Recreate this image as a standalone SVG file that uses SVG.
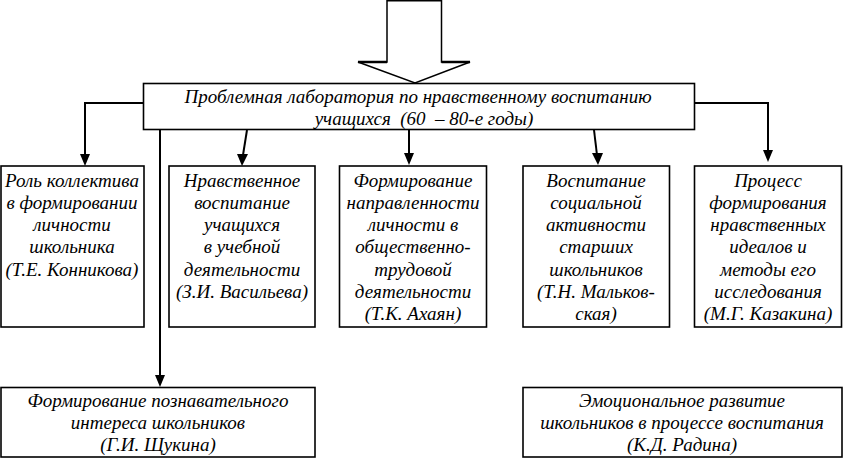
<svg xmlns="http://www.w3.org/2000/svg" width="850" height="458" viewBox="0 0 850 458">
<style>
.box{fill:#fff;stroke:#000;stroke-width:1.6}
.t{font-family:"Liberation Serif","Times New Roman",serif;font-style:italic;font-size:19px;fill:#000;text-anchor:middle}
.c{fill:none;stroke:#000;stroke-width:2}
</style>
<rect width="850" height="458" fill="#fff"/>
<g id="block-arrow">
<polygon points="387,0.8 441.5,0.8 441.5,62 470,62 415,83 358,62 387,62" fill="#fff" stroke="#000" stroke-width="1.5"/>
<line x1="358" y1="62" x2="387" y2="62" stroke="#000" stroke-width="2.5"/>
<line x1="441.5" y1="62" x2="470" y2="62" stroke="#000" stroke-width="2.5"/>
</g>
<g id="connectors">
<polyline class="c" points="143,103 85,103 85,155"/>
<path d="M80,154 L90,154 L85,166 Z"/>
<line class="c" x1="247" y1="130" x2="243" y2="155"/>
<path d="M237,154 L248,154 L242,166 Z"/>
<line class="c" x1="409" y1="130" x2="409" y2="155"/>
<path d="M404,153 L414,153 L409,165 Z"/>
<line class="c" x1="594" y1="130" x2="597" y2="155"/>
<path d="M592,153 L603,153 L598,165 Z"/>
<polyline class="c" points="694,103 768,103 768,152"/>
<path d="M763,150 L773,150 L768,162 Z"/>
<line class="c" x1="160" y1="130" x2="160" y2="376"/>
<path d="M155,375 L165,375 L160,387 Z"/>
</g>
<g id="main">
<rect class="box" x="143.5" y="83.5" width="551" height="46"/>
<text class="t" x="418" y="103">Проблемная лаборатория по нравственному воспитанию</text>
<text class="t" x="424" y="125" font-size="17" xml:space="preserve">учащихся  (60  – 80-е годы)</text>
</g>
<g id="n1">
<rect class="box" x="1" y="166" width="143" height="161"/>
<text class="t" x="72" y="187">Роль коллектива</text>
<text class="t" x="72" y="209">в формировании</text>
<text class="t" x="72" y="231">личности</text>
<text class="t" x="72" y="253">школьника</text>
<text class="t" x="72" y="276">(Т.Е. Конникова)</text>
</g>
<g id="n2">
<rect class="box" x="169" y="166" width="146" height="161"/>
<text class="t" x="242" y="187">Нравственное</text>
<text class="t" x="242" y="209">воспитание</text>
<text class="t" x="242" y="231">учащихся</text>
<text class="t" x="242" y="253">в учебной</text>
<text class="t" x="242" y="276">деятельности</text>
<text class="t" x="242" y="298">(З.И. Васильева)</text>
</g>
<g id="n3">
<rect class="box" x="339.5" y="166" width="147" height="161"/>
<text class="t" x="413" y="187">Формирование</text>
<text class="t" x="413" y="209">направленности</text>
<text class="t" x="413" y="231">личности в</text>
<text class="t" x="413" y="253">общественно-</text>
<text class="t" x="413" y="276">трудовой</text>
<text class="t" x="413" y="298">деятельности</text>
<text class="t" x="413" y="320">(Т.К. Ахаян)</text>
</g>
<g id="n4">
<rect class="box" x="523" y="166" width="146.5" height="161"/>
<text class="t" x="596" y="187">Воспитание</text>
<text class="t" x="596" y="209">социальной</text>
<text class="t" x="596" y="231">активности</text>
<text class="t" x="596" y="253">старших</text>
<text class="t" x="596" y="276">школьников</text>
<text class="t" x="596" y="298">(Т.Н. Мальков-</text>
<text class="t" x="596" y="320">ская)</text>
</g>
<g id="n5">
<rect class="box" x="694.5" y="166" width="147" height="161"/>
<text class="t" x="768" y="187">Процесс</text>
<text class="t" x="768" y="209">формирования</text>
<text class="t" x="768" y="231">нравственных</text>
<text class="t" x="768" y="253">идеалов и</text>
<text class="t" x="768" y="276">методы его</text>
<text class="t" x="768" y="298">исследования</text>
<text class="t" x="768" y="320">(М.Г. Казакина)</text>
</g>
<g id="n6">
<rect class="box" x="1" y="387.5" width="314" height="69.5"/>
<text class="t" x="158" y="407">Формирование познавательного</text>
<text class="t" x="158" y="429">интереса школьников</text>
<text class="t" x="158" y="451">(Г.И. Щукина)</text>
</g>
<g id="n7">
<rect class="box" x="523" y="387.5" width="319" height="69.5"/>
<text class="t" x="682" y="407">Эмоциональное развитие</text>
<text class="t" x="682" y="429">школьников в процессе воспитания</text>
<text class="t" x="682" y="451">(К.Д. Радина)</text>
</g>
</svg>
